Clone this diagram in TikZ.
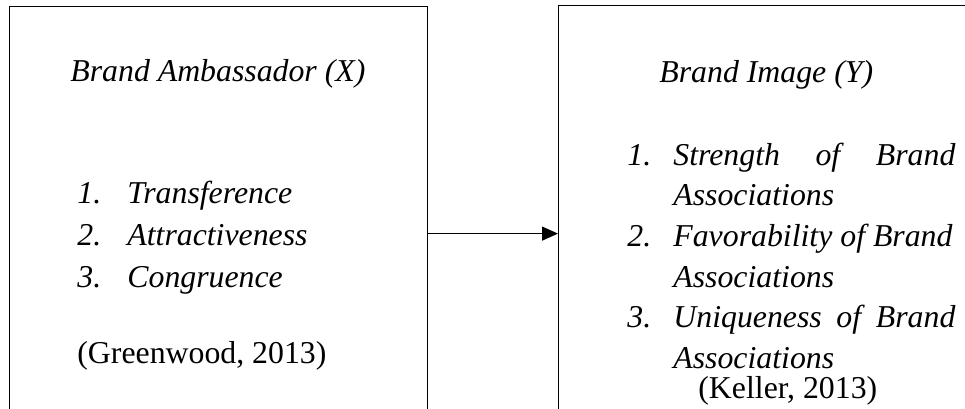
\documentclass[tikz,border=0pt]{standalone}
\usepackage{fontspec,enumitem}
\setmainfont{Liberation Serif}
\usetikzlibrary{arrows.meta}
\tikzset{
    every edge/.style={
	draw=black,
	line width=0.6pt,
    },
    frame/.style={
	anchor=north west,
	rectangle,
	draw=black,
	line width=0.6pt,
	inner sep=0pt
    },
    words/.style={
	anchor=base west,
	inner sep=0pt,
	font=\fontsize{15.9}{21}\selectfont
    },
}
\newcommand\dims[3]{%
    \parbox[t]{#1}{%
    \begin{enumerate}[nosep,leftmargin=#2,labelwidth=#2,labelsep=0pt,
	labelindent=0pt,align=left,label=\arabic*.]
    #3
    \end{enumerate}}}

\begin{document}
\begin{tikzpicture}[x=0.5pt,y=-0.5pt]

    \useasboundingbox (0,0) rectangle (965,408);
    \clip (0,0) rectangle (965,408);

    \node[frame, minimum width=209pt, minimum height=227pt] (AMB) at (9,6) {};
    \node[frame, minimum width=250pt, minimum height=228pt] (IMG) at (558,5) {};

    \node[words] (AMBTITLE) at (70,81) {\textit{Brand Ambassador (X)}};
    \node[words] (AMBLIST) at (77,181) {\itshape
	\dims{150pt}{25pt}{%
	    \item Transference
	    \item Attractiveness
	    \item Congruence}};
    \node[words] (AMBREF) at (77,363) {(Greenwood, 2013)};

    \node[words] (IMGTITLE) at (659,82) {\textit{Brand Image (Y)}};
    \node[words, font=\fontsize{15.9}{20.3}\selectfont] (IMGLIST) at (627,143) {\itshape
	\dims{164pt}{23pt}{%
	    \item Strength\hfill of\hfill Brand\\ Associations
	    \item Favorability of Brand\\ Associations
	    \item Uniqueness\hfill of\hfill Brand\\ Associations}};
    \node[words] (IMGREF) at (698,398) {(Keller, 2013)};

    \path (AMB) edge[-{Triangle[length=8pt,width=7pt]}] (IMG);
\end{tikzpicture}
\end{document}
